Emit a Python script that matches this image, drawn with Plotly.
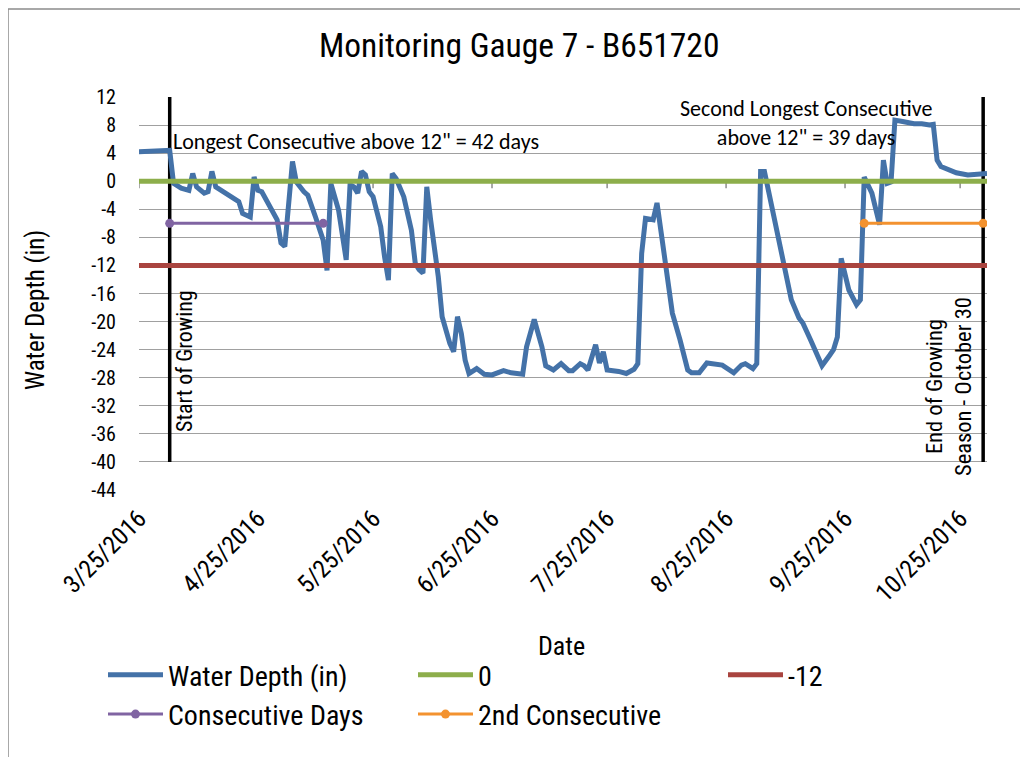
import plotly.graph_objects as go

# ---------------- data ----------------
depth_dates = [
    "2016-03-25", "2016-04-02", "2016-04-03", "2016-04-05", "2016-04-07", "2016-04-08", "2016-04-09",
    "2016-04-11", "2016-04-12", "2016-04-13", "2016-04-14", "2016-04-16", "2016-04-18", "2016-04-20",
    "2016-04-21", "2016-04-23", "2016-04-24", "2016-04-25", "2016-04-26", "2016-04-28", "2016-04-30",
    "2016-05-01", "2016-05-02", "2016-05-04", "2016-05-05", "2016-05-07", "2016-05-08", "2016-05-10",
    "2016-05-12", "2016-05-13", "2016-05-14", "2016-05-16", "2016-05-18", "2016-05-19", "2016-05-20",
    "2016-05-21", "2016-05-22", "2016-05-23", "2016-05-24", "2016-05-25", "2016-05-27", "2016-05-28",
    "2016-05-29", "2016-05-30", "2016-05-31", "2016-06-02", "2016-06-04", "2016-06-05", "2016-06-06",
    "2016-06-07", "2016-06-08", "2016-06-09", "2016-06-11", "2016-06-12", "2016-06-14", "2016-06-15",
    "2016-06-16", "2016-06-17", "2016-06-18", "2016-06-19", "2016-06-21", "2016-06-23", "2016-06-25",
    "2016-06-28", "2016-06-30", "2016-07-03", "2016-07-04", "2016-07-06", "2016-07-08", "2016-07-09",
    "2016-07-11", "2016-07-13", "2016-07-15", "2016-07-16", "2016-07-18", "2016-07-19", "2016-07-20",
    "2016-07-22", "2016-07-23", "2016-07-24", "2016-07-25", "2016-07-28", "2016-07-30", "2016-08-01",
    "2016-08-02", "2016-08-03", "2016-08-04", "2016-08-06", "2016-08-07", "2016-08-08", "2016-08-10",
    "2016-08-11", "2016-08-13", "2016-08-15", "2016-08-16", "2016-08-18", "2016-08-20", "2016-08-24",
    "2016-08-27", "2016-08-29", "2016-08-30", "2016-09-01", "2016-09-02", "2016-09-03", "2016-09-04",
    "2016-09-05", "2016-09-07", "2016-09-09", "2016-09-11", "2016-09-13", "2016-09-14", "2016-09-16",
    "2016-09-18", "2016-09-19", "2016-09-21", "2016-09-22", "2016-09-23", "2016-09-24", "2016-09-26",
    "2016-09-28", "2016-09-29", "2016-09-30", "2016-10-02", "2016-10-03", "2016-10-04", "2016-10-05",
    "2016-10-06", "2016-10-07", "2016-10-08", "2016-10-10", "2016-10-13", "2016-10-15", "2016-10-17",
    "2016-10-18", "2016-10-19", "2016-10-20", "2016-10-22", "2016-10-24", "2016-10-27", "2016-10-30",
    "2016-11-01",
]
depth_values = [
    4.2, 4.4, -0.3, -1.0, -1.3, 1.1, -0.8,
    -1.7, -1.5, 1.4, -0.8, -1.5, -2.2, -2.9,
    -4.6, -5.1, 0.6, -1.3, -1.5, -3.4, -5.5,
    -8.8, -9.3, 2.8, -0.1, -1.5, -2.0, -5.1,
    -8.4, -12.7, -0.3, -4.1, -11.2, -0.5, -0.8,
    -1.7, 1.4, 0.9, -1.5, -2.2, -6.5, -10.8,
    -14.1, 1.1, 0.4, -2.2, -7.0, -11.7, -12.6,
    -13.1, -0.8, -5.5, -13.6, -19.3, -23.1, -24.3,
    -19.3, -21.7, -25.5, -27.4, -26.7, -27.5, -27.6,
    -27.0, -27.3, -27.5, -23.6, -19.7, -23.6, -26.3,
    -26.9, -26.0, -27.0, -27.0, -26.0, -26.3, -26.9,
    -23.3, -25.9, -24.3, -26.9, -27.1, -27.4, -26.8,
    -26.0, -10.3, -5.3, -5.5, -3.1, -7.0, -14.1,
    -18.8, -22.6, -26.9, -27.3, -27.3, -25.9, -26.2,
    -27.3, -26.2, -26.0, -26.7, -26.0, 1.4, 1.4,
    -1.3, -6.0, -11.7, -16.9, -19.5, -20.2, -22.6,
    -25.0, -26.3, -24.8, -24.0, -22.2, -11.0, -15.5,
    -17.6, -16.9, 0.6, -1.7, -4.1, -6.2, 3.0,
    -0.3, -0.1, 8.7, 8.5, 8.2, 8.2, 8.0,
    8.1, 3.0, 2.1, 1.7, 1.2, 0.9, 1.1,
    1.1,
]
assert len(depth_dates) == len(depth_values)

ref_dates = ["2016-03-25", "2016-11-01"]
zero_values = [0, 0]
minus12_values = [-12, -12]

consec_dates = ["2016-04-02", "2016-05-12"]
consec_values = [-6, -6]
consec2_dates = ["2016-09-30", "2016-10-31"]
consec2_values = [-6, -6]

start_dates = ["2016-04-02", "2016-04-02"]
end_dates = ["2016-10-31", "2016-10-31"]
season_line_values = [12, -40]

x_tick_vals = ["2016-03-25", "2016-04-25", "2016-05-25", "2016-06-25",
               "2016-07-25", "2016-08-25", "2016-09-25", "2016-10-25"]
x_tick_text = ["3/25/2016", "4/25/2016", "5/25/2016", "6/25/2016",
               "7/25/2016", "8/25/2016", "9/25/2016", "10/25/2016"]
y_tick_vals = list(range(12, -45, -4))
y_tick_text = [str(v) for v in y_tick_vals]

# ---------------- style ----------------
NARROW = "Roboto Condensed, Liberation Sans Narrow, DejaVu Sans Condensed, Lato, sans-serif"
CAL = "Carlito, Lato, sans-serif"
BLUE = "#4472A8"
GREEN = "#8DAE4B"
RED = "#A9443F"
PURPLE = "#8064A2"
ORANGE = "#F3922F"

OFF = 8                      # page body margin of the html page
W, H = 1028 - OFF, 757 - OFF
PX_L, PX_R, PX_T, PX_B = 139, 987, 97, 490   # plot area in page pixels
L, T = PX_L - OFF, PX_T - OFF
R, B = W - (PX_R - OFF), H - (PX_B - OFF)
PW, PH = PX_R - PX_L, PX_B - PX_T


def px(x):
    return (x - PX_L) / PW


def py(y):
    return (PX_B - y) / PH


fig = go.Figure()

fig.add_trace(go.Scatter(x=start_dates, y=season_line_values, mode="lines",
                         line=dict(color="black", width=3.5), showlegend=False, hoverinfo="skip"))
fig.add_trace(go.Scatter(x=end_dates, y=season_line_values, mode="lines",
                         line=dict(color="black", width=3.5), showlegend=False, hoverinfo="skip"))

fig.add_trace(go.Scatter(x=depth_dates, y=depth_values, mode="lines", name="Water Depth (in)",
                         line=dict(color=BLUE, width=5)))
fig.add_trace(go.Scatter(x=ref_dates, y=zero_values, mode="lines", name="0",
                         line=dict(color=GREEN, width=5)))
fig.add_trace(go.Scatter(x=ref_dates, y=minus12_values, mode="lines", name="-12",
                         line=dict(color=RED, width=5)))
fig.add_trace(go.Scatter(x=consec_dates, y=consec_values, mode="lines+markers", name="Consecutive Days",
                         line=dict(color=PURPLE, width=3), marker=dict(color=PURPLE, size=9)))
fig.add_trace(go.Scatter(x=consec2_dates, y=consec2_values, mode="lines+markers", name="2nd Consecutive",
                         line=dict(color=ORANGE, width=3), marker=dict(color=ORANGE, size=9)))

# small tick marks on the zero line (where Excel's category axis crosses)
for tv in x_tick_vals:
    fig.add_shape(type="line", xref="x", yref="y", x0=tv, x1=tv,
                  ysizemode="pixel", yanchor=0, y0=0, y1=-7,
                  line=dict(color="#8C8C8C", width=1.5), layer="below")

# outer chart frame
fig.add_shape(type="rect", xref="paper", yref="paper",
              x0=px(8), x1=px(1021), y0=py(800), y1=py(9),
              line=dict(color="#8C8C8C", width=1.5), fillcolor="rgba(0,0,0,0)")

annotations = [
    dict(text="Monitoring Gauge 7 - B651720", x=px(519), y=py(46), xref="paper", yref="paper",
         showarrow=False, font=dict(family=NARROW, size=33.5, color="black"),
         xanchor="center", yanchor="middle"),
    dict(text="Date", x=px(561), y=py(646), xref="paper", yref="paper", showarrow=False,
         font=dict(family=NARROW, size=26, color="black"), xanchor="center", yanchor="middle"),
    dict(text="Water Depth (in)", x=px(35), y=py(310), xref="paper", yref="paper", showarrow=False,
         textangle=-90, font=dict(family=NARROW, size=25, color="black"),
         xanchor="center", yanchor="middle"),
    dict(text="Longest Consecutive above 12\" = 42 days", x=px(171), y=py(141), xref="paper",
         yref="paper", showarrow=False, font=dict(family=CAL, size=22, color="black"),
         xanchor="left", yanchor="middle"),
    dict(text="Second Longest Consecutive<br>above 12\" = 39 days", x=px(806), y=py(123),
         xref="paper", yref="paper", showarrow=False, align="center",
         font=dict(family=CAL, size=22, color="black"), xanchor="center", yanchor="middle"),
    dict(text="Start of Growing", x=px(184), y=py(361), xref="paper", yref="paper",
         showarrow=False, textangle=-90, font=dict(family=NARROW, size=22, color="black"),
         xanchor="center", yanchor="middle"),
    dict(text="End of Growing<br>Season - October 30", x=px(948), y=py(387), xref="paper",
         yref="paper", showarrow=False, textangle=-90, align="center",
         font=dict(family=NARROW, size=22.5, color="black"), xanchor="center", yanchor="middle"),
]

fig.update_layout(
    width=W, height=H,
    margin=dict(l=L, r=R, t=T, b=B, autoexpand=False),
    paper_bgcolor="white", plot_bgcolor="white",
    annotations=annotations,
    xaxis=dict(type="date", range=["2016-03-25", "2016-11-01"], tickmode="array",
               tickvals=x_tick_vals, ticktext=x_tick_text, tickangle=-45,
               tickfont=dict(family=NARROW, size=25, color="black"),
               showgrid=False, zeroline=False, showline=False, ticks="",
               ticklabelstandoff=8, automargin=False),
    yaxis=dict(range=[-44, 12], tickmode="array", tickvals=y_tick_vals, ticktext=y_tick_text,
               tickfont=dict(family=NARROW, size=20, color="black"),
               showgrid=True, gridcolor="#A0A0A0", gridwidth=1.3, zeroline=False,
               showline=False, ticks="", ticklabelstandoff=22, automargin=False),
    legend=dict(orientation="h", x=px(103), xanchor="left", y=py(650), yanchor="top",
                entrywidth=240, entrywidthmode="pixels", itemwidth=55,
                font=dict(family=NARROW, size=28, color="black"),
                bgcolor="rgba(0,0,0,0)"),
    showlegend=True,
)

fig.write_html("out.html")
